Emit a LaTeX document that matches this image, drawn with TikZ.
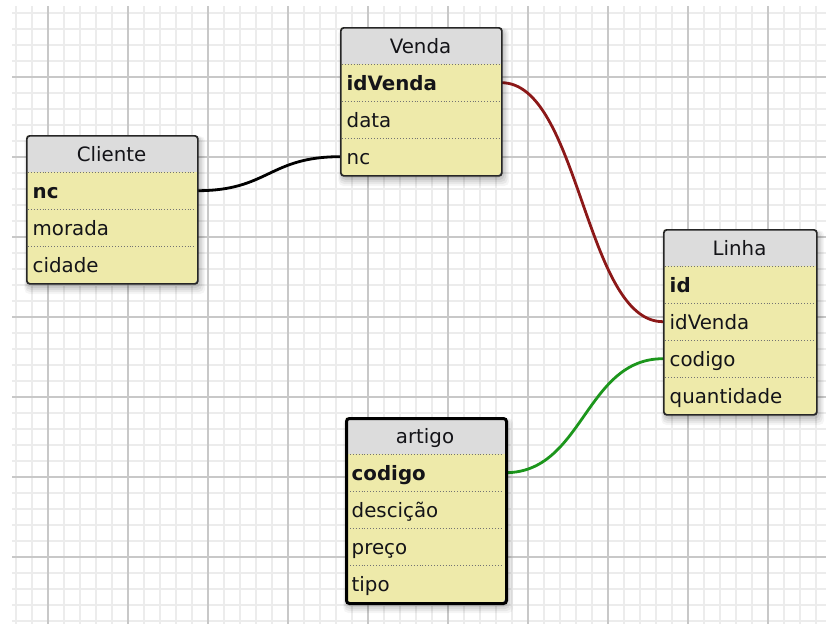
\documentclass[tikz,border=0pt]{standalone}
\usepackage{fontspec}
\setmainfont{DejaVu Sans}
\pgfdeclarelayer{gridlayer}
\pgfdeclarelayer{connlayer}
\pgfsetlayers{gridlayer,connlayer,main}
\definecolor{bodyc}{RGB}{238,234,170}
\definecolor{headc}{RGB}{220,220,220}
\definecolor{minorc}{RGB}{236,236,236}
\definecolor{majorc}{RGB}{200,200,200}
\definecolor{redc}{RGB}{140,24,24}
\definecolor{greenc}{RGB}{28,150,28}
\definecolor{txtc}{RGB}{20,20,24}
\tikzset{
  x=1pt, y=-1pt,
  minorline/.style={draw=minorc, line width=1.6pt},
  majorline/.style={draw=majorc, line width=1.4pt},
  tbl/.style={draw=black!85, line width=1.7pt, rounded corners=3pt, inner sep=0pt},
  seltbl/.style={draw=black, line width=3pt},
  sepline/.style={draw=black!55, line width=0.9pt, dotted},
  hdrtext/.style={font=\fontsize{19.8pt}{23pt}\selectfont, text=txtc, inner sep=0pt, text height=17pt, text depth=2pt},
  rowtext/.style={font=\fontsize{19.8pt}{23pt}\selectfont, text=txtc, anchor=north west, inner xsep=6.5pt, inner ysep=0pt, align=left, minimum height=37pt, text height=17pt, text depth=2pt},
  conn/.style={line width=2.8pt},
}
\newcommand\dbtable[7]{%
  \pgfmathsetmacro\tblH{37*(#7+1)}%
  \foreach \s/\o in {9/0.04,7/0.05,5/0.06,3/0.07,1/0.08}{
    \fill[black,opacity=\o,rounded corners=5pt] ({#2+2-\s*0.4},{#3+3-\s*0.2}) rectangle ({#2+#4+1+\s*0.8},{#3+\tblH+2+\s});
  }
  \begin{scope}
    \clip[rounded corners=3pt] (#2,#3) rectangle ({#2+#4},{#3+\tblH});
    \fill[bodyc] (#2,#3) rectangle ({#2+#4},{#3+\tblH});
    \fill[headc] (#2,#3) rectangle ({#2+#4},{#3+37});
  \end{scope}
  \foreach \k in {1,...,#7} \draw[sepline] ({#2+2},{#3+37*\k}) -- ({#2+#4-2},{#3+37*\k});
  \node[tbl, minimum width={#4*1pt}, minimum height={\tblH*1pt}, anchor=north west, #6] (#1) at (#2,#3) {};
  \node[hdrtext] (#1-title) at ({#2+#4/2},{#3+18.5}) {#5};
}
\begin{document}
\begin{tikzpicture}
\useasboundingbox (0,0) rectangle (826,624);
\begin{pgfonlayer}{gridlayer}
  \fill[white] (0,0) rectangle (826,624);
  \foreach \x in {16,32,...,816} \draw[minorline] (\x,6) -- (\x,624);
  \foreach \y in {13,29,...,621} \draw[minorline] (12,\y) -- (826,\y);
  \foreach \x in {48,128,...,768} \draw[majorline] (\x,6) -- (\x,624);
  \foreach \y in {77,157,...,557} \draw[majorline] (12,\y) -- (826,\y);
\end{pgfonlayer}

% Cliente
\dbtable{cliente}{26}{135}{171}{Cliente}{}{3}
\foreach \t [count=\i] in {{\bfseries nc},morada,cidade}
  \node[rowtext, minimum width=171pt, text width=158pt] (cliente-\i) at ({26},{135+37*\i}) {\t};

% Venda
\dbtable{venda}{340}{27}{161}{Venda}{}{3}
\foreach \t [count=\i] in {{\bfseries idVenda},data,nc}
  \node[rowtext, minimum width=161pt, text width=148pt] (venda-\i) at ({340},{27+37*\i}) {\t};

% Linha
\dbtable{linha}{663}{229}{153}{Linha}{}{4}
\foreach \t [count=\i] in {{\bfseries id},idVenda,codigo,quantidade}
  \node[rowtext, minimum width=153pt, text width=140pt] (linha-\i) at ({663},{229+37*\i}) {\t};

% artigo
\dbtable{artigo}{345}{417}{160}{artigo}{seltbl}{4}
\foreach \t [count=\i] in {{\bfseries codigo},descição,preço,tipo}
  \node[rowtext, minimum width=160pt, text width=147pt] (artigo-\i) at ({345},{417+37*\i}) {\t};

\begin{pgfonlayer}{connlayer}
  \draw[conn, black] (cliente-1.east) .. controls +(71,0) and +(-71,0) .. (venda-3.west);
  \draw[conn, redc] (venda-1.east) .. controls +(78,0) and +(-78,0) .. (linha-2.west);
  \draw[conn, greenc] (artigo-1.east) .. controls +(78,0) and +(-78,0) .. (linha-3.west);
\end{pgfonlayer}
\end{tikzpicture}
\end{document}
